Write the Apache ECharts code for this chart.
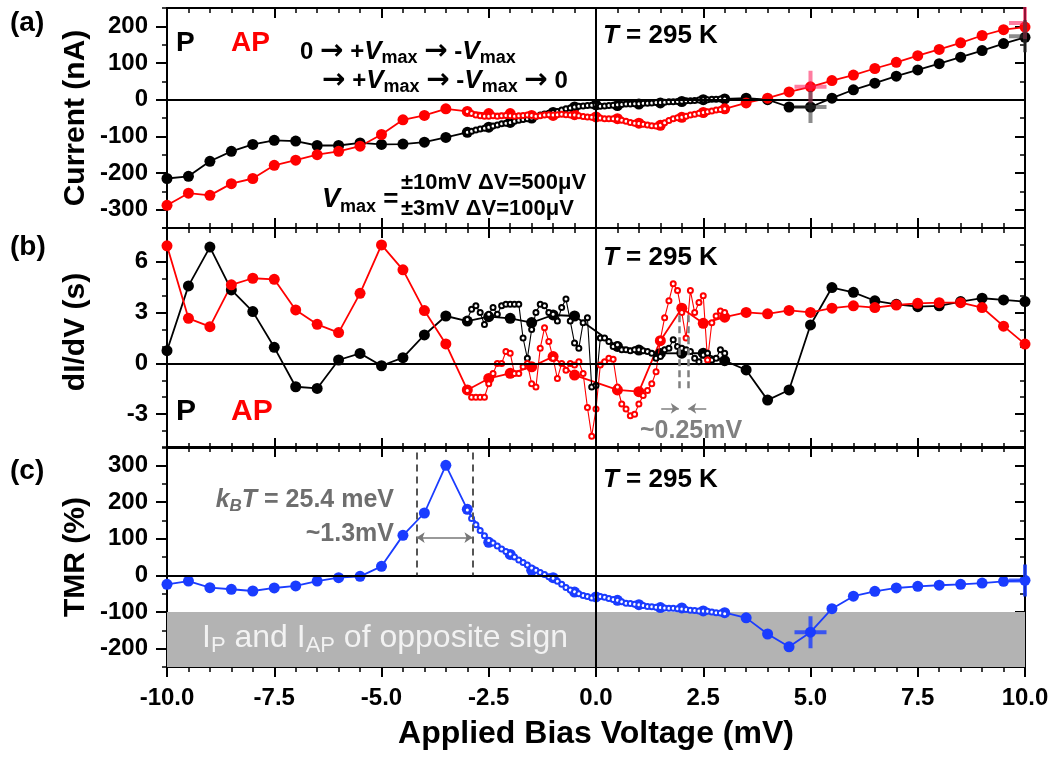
<!DOCTYPE html>
<html><head><meta charset="utf-8">
<script src="https://cdn.jsdelivr.net/npm/echarts@6/dist/echarts.min.js"></script>
<style>html,body{margin:0;padding:0;background:#fff}#c{width:1054px;height:758px}</style>
</head><body><div id="c"></div><script>
// ---------------- DATA ----------------
const V_BIG = [-10,-9.5,-9,-8.5,-8,-7.5,-7,-6.5,-6,-5.5,-5,-4.5,-4,-3.5,-3,-2.5,-2,-1.5,-1,-0.5,0,
  0.5,1,1.5,2,2.5,3,3.5,4,4.5,5,5.5,6,6.5,7,7.5,8,8.5,9,9.5,10];
const V_SMALL = [-3.0,-2.9,-2.8,-2.7,-2.6,-2.5,-2.4,-2.3,-2.2,-2.1,-2.0,-1.9,-1.8,-1.7,-1.6,-1.5,-1.4,-1.3,-1.2,-1.1,
  -1.0,-0.9,-0.8,-0.7,-0.6,-0.5,-0.4,-0.3,-0.2,-0.1,0.0,0.1,0.2,0.3,0.4,0.5,0.6,0.7,0.8,0.9,1.0,1.1,1.2,1.3,1.4,
  1.5,1.6,1.7,1.8,1.9,2.0,2.1,2.2,2.3,2.4,2.5,2.6,2.7,2.8,2.9,3.0];

// (a) current (nA)
const I_P_BIG = [-215,-209,-168,-141,-122,-111,-113,-125,-125,-118,-122,-121,-116,-103,-89,-75,-62,-50,-35,-20,-14,
  -16,-12,-9,-5,0,2,4,0,-20,-20,4,27,45,64,81,98,116,134,153,170];
const I_AP_BIG = [-288,-255,-261,-229,-215,-179,-165,-150,-141,-127,-95,-55,-43,-25,-32,-38,-38,-43,-43,-41,-47,
  -52,-64,-70,-48,-35,-25,-9,4,21,35,52,67,85,102,120,137,155,175,191,198];
const I_P_SMALL = [-89,-86,-83,-80,-78,-75,-72,-69,-66,-64,-62,-59,-56,-54,-52,-50,-46,-42,-39,-37,-35,-32,-28,-25,-23,-20,-18,-17,-16,-15,-14,
  -18,-17,-16,-15,-14,-13,-12,-12,-11,-11,-10,-10,-9,-8,-8,-7,-6,-6,-5,-4,-3,-3,-2,-1,0,0,1,1,2,2];
const I_AP_SMALL = [-32,-38,-42,-44,-45,-45,-44,-45,-44,-43,-44,-45,-44,-43,-42,-43,-45,-44,-42,-41,-42,-41,-40,-41,-42,-42,-44,-46,-47,-48,-48,
  -50,-52,-52,-52,-53,-56,-59,-62,-64,-65,-67,-69,-71,-72,-70,-63,-57,-52,-49,-48,-45,-42,-40,-37,-35,-33,-31,-28,-27,-25];
const CROSS_V = [5, 10];
const CROSS_I_AP = [35, 209];
const CROSS_I_P = [-20, 173];

// (b) dI/dV (s)
const G_P_BIG = [0.75,4.58,6.87,4.34,3.06,0.95,-1.38,-1.48,0.2,0.59,-0.14,0.34,1.68,2.8,2.5,2.76,2.66,2.41,2.86,2.8,null,
  1.0,0.79,0.59,0.6,0.6,0.16,-0.39,-2.17,-1.57,2.27,4.48,4.2,3.7,3.49,3.35,3.4,3.65,3.85,3.75,3.65];
const G_AP_BIG = [6.95,2.66,2.17,4.64,5.03,4.97,3.16,2.31,1.82,4.14,7.0,5.53,3.12,1.15,-1.57,-0.89,-0.59,-0.2,0.4,-0.69,null,
  -1.57,-1.67,1.34,3.26,2.37,2.73,3.01,2.93,3.13,3.01,3.26,3.4,3.3,3.45,3.55,3.59,3.59,3.3,2.2,1.14];
const G_P_SMALL = [2.6,3.2,3.4,3.0,2.3,2.9,3.3,2.9,3.4,3.5,3.5,3.5,3.5,1.5,0.3,2.0,3.0,3.5,3.4,3.0,2.9,2.5,3.3,3.8,2.5,1.2,0.9,2.4,2.7,-1.4,-1.3,
  1.5,1.5,1.3,1.0,1.1,0.8,0.8,0.75,0.8,0.8,0.75,0.7,0.6,0.3,0.4,0.8,0.9,1.4,1.0,0.9,0.8,0.7,0.3,0.1,0.5,0.6,0.2,0.3,0.8,0.6];
const G_AP_SMALL = [-1.6,-2.0,-2.0,-2.0,-2.0,-1.2,-0.6,0.0,0.0,0.7,0.6,-0.6,-0.6,-0.2,0.0,-1.2,-1.4,0.9,2.1,1.3,0.3,-0.9,0.0,-0.4,0.0,-0.1,0.1,-0.6,-2.6,-4.3,-2.7,
  -0.1,0.1,0.3,0.25,-1.4,-2.4,-2.7,-3.1,-3.0,-2.4,-1.9,-1.6,-1.2,-0.5,1.4,2.7,3.7,4.7,4.3,3.0,1.5,4.3,3.0,3.6,4.0,0.2,2.4,2.8,3.1,3.0];

// (c) TMR (%)
const TMR_BIG = [-24.5,-15.5,-33.6,-38,-42.7,-34.5,-29,-15.5,-6.4,-2.7,24.5,109,170,300,180,90,57,13.6,-6.4,-45.5,-59,
  -68,-80,-88,-89,-97,-102,-116,-160,-195,-155,-91,-57,-43.6,-34.5,-30,-27,-24.5,-21,-16.4,-13.6];
const TMR_SMALL = [178,155,138,122,108,95,88,80,72,65,58,50,42,35,28,20,14,8,2,-4,-8,-16,-24,-33,-40,-45,-50,-55,-58,-62,-60,
  -58,-60,-63,-66,-68,-72,-76,-77,-79,-80,-82,-85,-86,-87,-88,-89,-90,-90,-91,-92,-93,-95,-96,-97,-97,-98,-100,-102,-103,-105];
const CROSS_TMR = [-155, -14];

// tick labels
const X_TICKS = [-10,-7.5,-5,-2.5,0,2.5,5,7.5,10];
const Y_TICKS_A = [-300,-200,-100,0,100,200];
const Y_TICKS_B = [-3,0,3,6];
const Y_TICKS_C = [-200,-100,0,100,200,300];

// ---------------- STYLE / LAYOUT ----------------
const FF = '"Liberation Sans", Arial, sans-serif';
const RED = '#ff0000', BLK = '#000000', BLUE = '#1a3cff';
const GRIDS = [{top:8},{top:228},{top:447}];
const PLUS = 'path://M-1,-8L1,-8L1,-1L8,-1L8,1L1,1L1,8L-1,8L-1,1L-8,1L-8,-1L-1,-1Z';
const HALFPLUS = 'path://M-8,-1L-1,-1L-1,-8L1,-8L1,8L-1,8L-1,1L-8,1Z';

const zip = (xs, ys) => xs.map((x, i) => [x, ys[i]]);

function xAxes(g, labeled) {
  const base = {
    type:'value', gridIndex:g, min:-10, max:10, interval:2.5,
    axisLine:{show:true, onZero:false, lineStyle:{color:BLK, width:2}},
    minorTick:{show:true, splitNumber:5, length:5, lineStyle:{color:BLK, width:1.5}},
    splitLine:{show:false}, minorSplitLine:{show:false}
  };
  const bottom = Object.assign({}, base, {
    position:'bottom',
    axisTick:{show:true, inside:!labeled, length:10, lineStyle:{color:BLK, width:2}},
    axisLabel: labeled ? {show:true, customValues:X_TICKS, margin:19, color:BLK, fontFamily:FF, fontWeight:'bold', fontSize:24,
      formatter:v => Number(v).toFixed(1)} : {show:false}
  });
  const top = Object.assign({}, base, {
    position:'top',
    axisTick:{show:true, inside:true, length:10, lineStyle:{color:BLK, width:2}},
    axisLabel:{show:false}
  });
  return [bottom, top];
}

function yAxes(g, min, max, minorStep, majors) {
  const common = {type:'value', gridIndex:g, min, max, splitLine:{show:false}, minorSplitLine:{show:false}};
  return [
    Object.assign({}, common, {position:'left',
      axisLine:{show:true, onZero:false, lineStyle:{color:BLK, width:2}},
      axisTick:{show:true, inside:false, length:11, customValues:majors, lineStyle:{color:BLK, width:2}},
      axisLabel:{show:true, customValues:majors, margin:19, color:BLK, fontFamily:FF, fontWeight:'bold', fontSize:24}}),
    Object.assign({}, common, {position:'left', interval:minorStep,
      axisLine:{show:false, onZero:false},
      axisTick:{show:true, inside:false, length:5, lineStyle:{color:BLK, width:1.5}},
      axisLabel:{show:false}}),
    Object.assign({}, common, {position:'right',
      axisLine:{show:true, onZero:false, lineStyle:{color:BLK, width:2}},
      axisTick:{show:true, inside:true, length:10, customValues:majors, lineStyle:{color:BLK, width:2}},
      axisLabel:{show:false}}),
    Object.assign({}, common, {position:'right', interval:minorStep,
      axisLine:{show:false, onZero:false},
      axisTick:{show:true, inside:true, length:5, lineStyle:{color:BLK, width:1.5}},
      axisLabel:{show:false}})
  ];
}

function bigSeries(g, xs, ys, color) {
  return {type:'line', xAxisIndex:2*g, yAxisIndex:4*g, data:zip(xs, ys), connectNulls:true,
    symbol:'circle', symbolSize:11, showSymbol:true, showAllSymbol:true,
    lineStyle:{color, width:1.8}, itemStyle:{color}, z:3, silent:true, animation:false};
}
function smallSeries(g, xs, ys, color) {
  return {type:'line', xAxisIndex:2*g, yAxisIndex:4*g, data:zip(xs, ys),
    symbol:'emptyCircle', symbolSize:5, showSymbol:true, showAllSymbol:true,
    lineStyle:{color, width:1.1}, itemStyle:{color, borderColor:color, borderWidth:1.1}, z:4, silent:true, animation:false};
}
function crossSeries(g, xs, ys, color) {
  const data = xs.map((x, i) => {
    const atEdge = x >= 10;
    return {value:[x, ys[i]], symbol: atEdge ? HALFPLUS : PLUS,
      symbolSize: atEdge ? [18, 32] : 32, symbolOffset: atEdge ? [-7, 0] : [0, 0]};
  });
  return {type:'scatter', xAxisIndex:2*g, yAxisIndex:4*g, data, itemStyle:{color}, z:6, silent:true, animation:false, clip:false};
}
function zeroLines(g) {
  return {type:'line', xAxisIndex:2*g, yAxisIndex:4*g, data:[], z:2, silent:true, animation:false,
    markLine:{silent:true, symbol:['none','none'], animation:false, label:{show:false},
      lineStyle:{color:BLK, width:2, type:'solid'}, data:[{xAxis:0}, {yAxis:0}]}};
}

const grid = GRIDS.map(p => ({left:167, right:29, top:p.top, height:220, show:true, borderColor:BLK, borderWidth:2, backgroundColor:'transparent'}));
const xAxis = [].concat(xAxes(0,false), xAxes(1,false), xAxes(2,true));
const yAxis = [].concat(yAxes(0,-350,250,50,Y_TICKS_A), yAxes(1,-5,8,1,Y_TICKS_B), yAxes(2,-250,350,50,Y_TICKS_C));

const series = [
  // gray band in (c)
  {type:'line', xAxisIndex:4, yAxisIndex:8, data:[], z:1, silent:true, animation:false,
    markArea:{silent:true, itemStyle:{color:'#b3b3b3'}, data:[[{yAxis:-250},{yAxis:-100}]]}},
  zeroLines(0), zeroLines(1), zeroLines(2),
  // annotations (b)
  {type:'line', xAxisIndex:2, yAxisIndex:4, data:[], z:5, silent:true, animation:false,
    markLine:{silent:true, animation:false, label:{show:false}, symbol:['none','none'],
      lineStyle:{color:'#808080', width:2.5, type:[7,4]},
      data:[[{coord:[1.93,2.85]},{coord:[1.93,-1.7]}],[{coord:[2.15,2.85]},{coord:[2.15,-1.7]}],
        [{coord:[1.52,-2.66], symbol:'none'},{coord:[1.93,-2.66], symbol:'arrow', symbolSize:8, lineStyle:{type:'solid', width:1.5}}],
        [{coord:[2.57,-2.66], symbol:'none'},{coord:[2.15,-2.66], symbol:'arrow', symbolSize:8, lineStyle:{type:'solid', width:1.5}}]]}},
  // annotations (c)
  {type:'line', xAxisIndex:4, yAxisIndex:8, data:[], z:5, silent:true, animation:false,
    markLine:{silent:true, animation:false, label:{show:false}, symbol:['none','none'],
      lineStyle:{color:'#555555', width:2, type:[7,5]},
      data:[[{coord:[-4.18,335]},{coord:[-4.18,0]}],[{coord:[-2.88,335]},{coord:[-2.88,0]}],
        [{coord:[-4.18,103], symbol:'arrow', symbolSize:8},{coord:[-2.88,103], symbol:'arrow', symbolSize:8, lineStyle:{type:'solid', width:1.5, color:'#777'}}]]}},
  // (a)
  bigSeries(0, V_BIG, I_P_BIG, BLK), bigSeries(0, V_BIG, I_AP_BIG, RED),
  smallSeries(0, V_SMALL, I_P_SMALL, BLK), smallSeries(0, V_SMALL, I_AP_SMALL, RED),
  crossSeries(0, CROSS_V, CROSS_I_AP, 'rgba(255,30,90,0.72)'), crossSeries(0, CROSS_V, CROSS_I_P, 'rgba(50,50,50,0.7)'),
  // (b)
  bigSeries(1, V_BIG, G_P_BIG, BLK), bigSeries(1, V_BIG, G_AP_BIG, RED),
  smallSeries(1, V_SMALL, G_P_SMALL, BLK), smallSeries(1, V_SMALL, G_AP_SMALL, RED),
  // (c)
  bigSeries(2, V_BIG, TMR_BIG, BLUE), smallSeries(2, V_SMALL, TMR_SMALL, BLUE),
  crossSeries(2, CROSS_V, CROSS_TMR, BLUE)
];

// ---------------- TEXT ----------------
function txt(x, y, text, opts) {
  opts = opts || {};
  const style = Object.assign({text, x:0, y:0, fill: opts.fill || BLK,
    font: opts.font || ('bold 24px ' + FF),
    align: opts.align || 'left', textAlign: opts.align || 'left',
    verticalAlign: 'middle', textVerticalAlign: 'middle'}, opts.style || {});
  return {type:'text', x, y, rotation: opts.rotation || 0, z:100, silent:true, style};
}
const SUB = (size, w) => ({fontSize:size, fontWeight:w||'bold', fontFamily:FF, verticalAlign:'bottom', lineHeight:size});
const ARROW = {fontSize:28, fontWeight:'bold', fontFamily:'"DejaVu Sans", sans-serif', lineHeight:30};
const VRICH = {i:{fontSize:26, fontStyle:'italic', fontWeight:'bold', fontFamily:FF, lineHeight:30}, s:SUB(18), a:ARROW};
const graphic = [
  txt(10, 23, '(a)', {font:'bold 28px ' + FF}),
  txt(10, 247, '(b)', {font:'bold 28px ' + FF}),
  txt(10, 471, '(c)', {font:'bold 28px ' + FF}),
  txt(76, 118, 'Current (nA)', {font:'bold 30px ' + FF, align:'center', rotation:Math.PI/2}),
  txt(76, 332, 'dI/dV (s)', {font:'bold 30px ' + FF, align:'center', rotation:Math.PI/2}),
  txt(76, 557, 'TMR (%)', {font:'bold 30px ' + FF, align:'center', rotation:Math.PI/2}),
  txt(596, 734, 'Applied Bias Voltage (mV)', {font:'bold 32px ' + FF, align:'center'}),
  // panel a
  txt(176, 43, 'P', {font:'bold 28px ' + FF}),
  txt(231, 43, 'AP', {font:'bold 28px ' + FF, fill:RED}),
  txt(300, 52, '0 {a|→} +{i|V}{s|max} {a|→} -{i|V}{s|max}', {font:'bold 24px ' + FF,
    style:{lineHeight:30, rich:VRICH}}),
  txt(322, 81, '{a|→} +{i|V}{s|max} {a|→} -{i|V}{s|max} {a|→} 0', {font:'bold 24px ' + FF,
    style:{lineHeight:30, rich:VRICH}}),
  txt(322, 200, '{i|V}{s|max} =', {font:'bold 26px ' + FF,
    style:{lineHeight:32, rich:{i:{fontSize:27, fontStyle:'italic', fontWeight:'bold', fontFamily:FF, lineHeight:32}, s:SUB(18)}}}),
  txt(401, 183, '±10mV ΔV=500μV', {font:'bold 22px ' + FF}),
  txt(401, 209, '±3mV ΔV=100μV', {font:'bold 22px ' + FF}),
  txt(603, 36, '{i|T} = 295 K', {font:'bold 26px ' + FF, style:{rich:{i:{fontSize:26, fontStyle:'italic', fontWeight:'bold', fontFamily:FF}}}}),
  // panel b
  txt(603, 258, '{i|T} = 295 K', {font:'bold 26px ' + FF, style:{rich:{i:{fontSize:26, fontStyle:'italic', fontWeight:'bold', fontFamily:FF}}}}),
  txt(176, 412, 'P', {font:'bold 30px ' + FF}),
  txt(231, 412, 'AP', {font:'bold 30px ' + FF, fill:RED}),
  txt(640, 431, '~0.25mV', {font:'bold 25px ' + FF, fill:'#808080'}),
  // panel c
  txt(603, 480, '{i|T} = 295 K', {font:'bold 26px ' + FF, style:{rich:{i:{fontSize:26, fontStyle:'italic', fontWeight:'bold', fontFamily:FF}}}}),
  txt(394, 500, '{i|k}{s|B}{i|T} = 25.4 meV', {font:'bold 25px ' + FF, fill:'#6e6e6e', align:'right',
    style:{lineHeight:30, rich:{i:{fontSize:25, fontStyle:'italic', fontWeight:'bold', fontFamily:FF, fill:'#6e6e6e', lineHeight:30},
      s:Object.assign(SUB(17), {fontStyle:'italic', fill:'#6e6e6e'})}}}),
  txt(394, 534, '~1.3mV', {font:'bold 25px ' + FF, fill:'#6e6e6e', align:'right'}),
  txt(202, 638, 'I{s|P} and I{s|AP} of opposite sign', {font:'32px ' + FF, fill:'#f2f2f2',
    style:{lineHeight:38, rich:{s:Object.assign(SUB(22, 'normal'), {fill:'#f2f2f2'})}}})
];

const chart = echarts.init(document.getElementById('c'), null, {renderer:'canvas'});
chart.setOption({animation:false, backgroundColor:'#ffffff', grid, xAxis, yAxis, series, graphic});
</script></body></html>
